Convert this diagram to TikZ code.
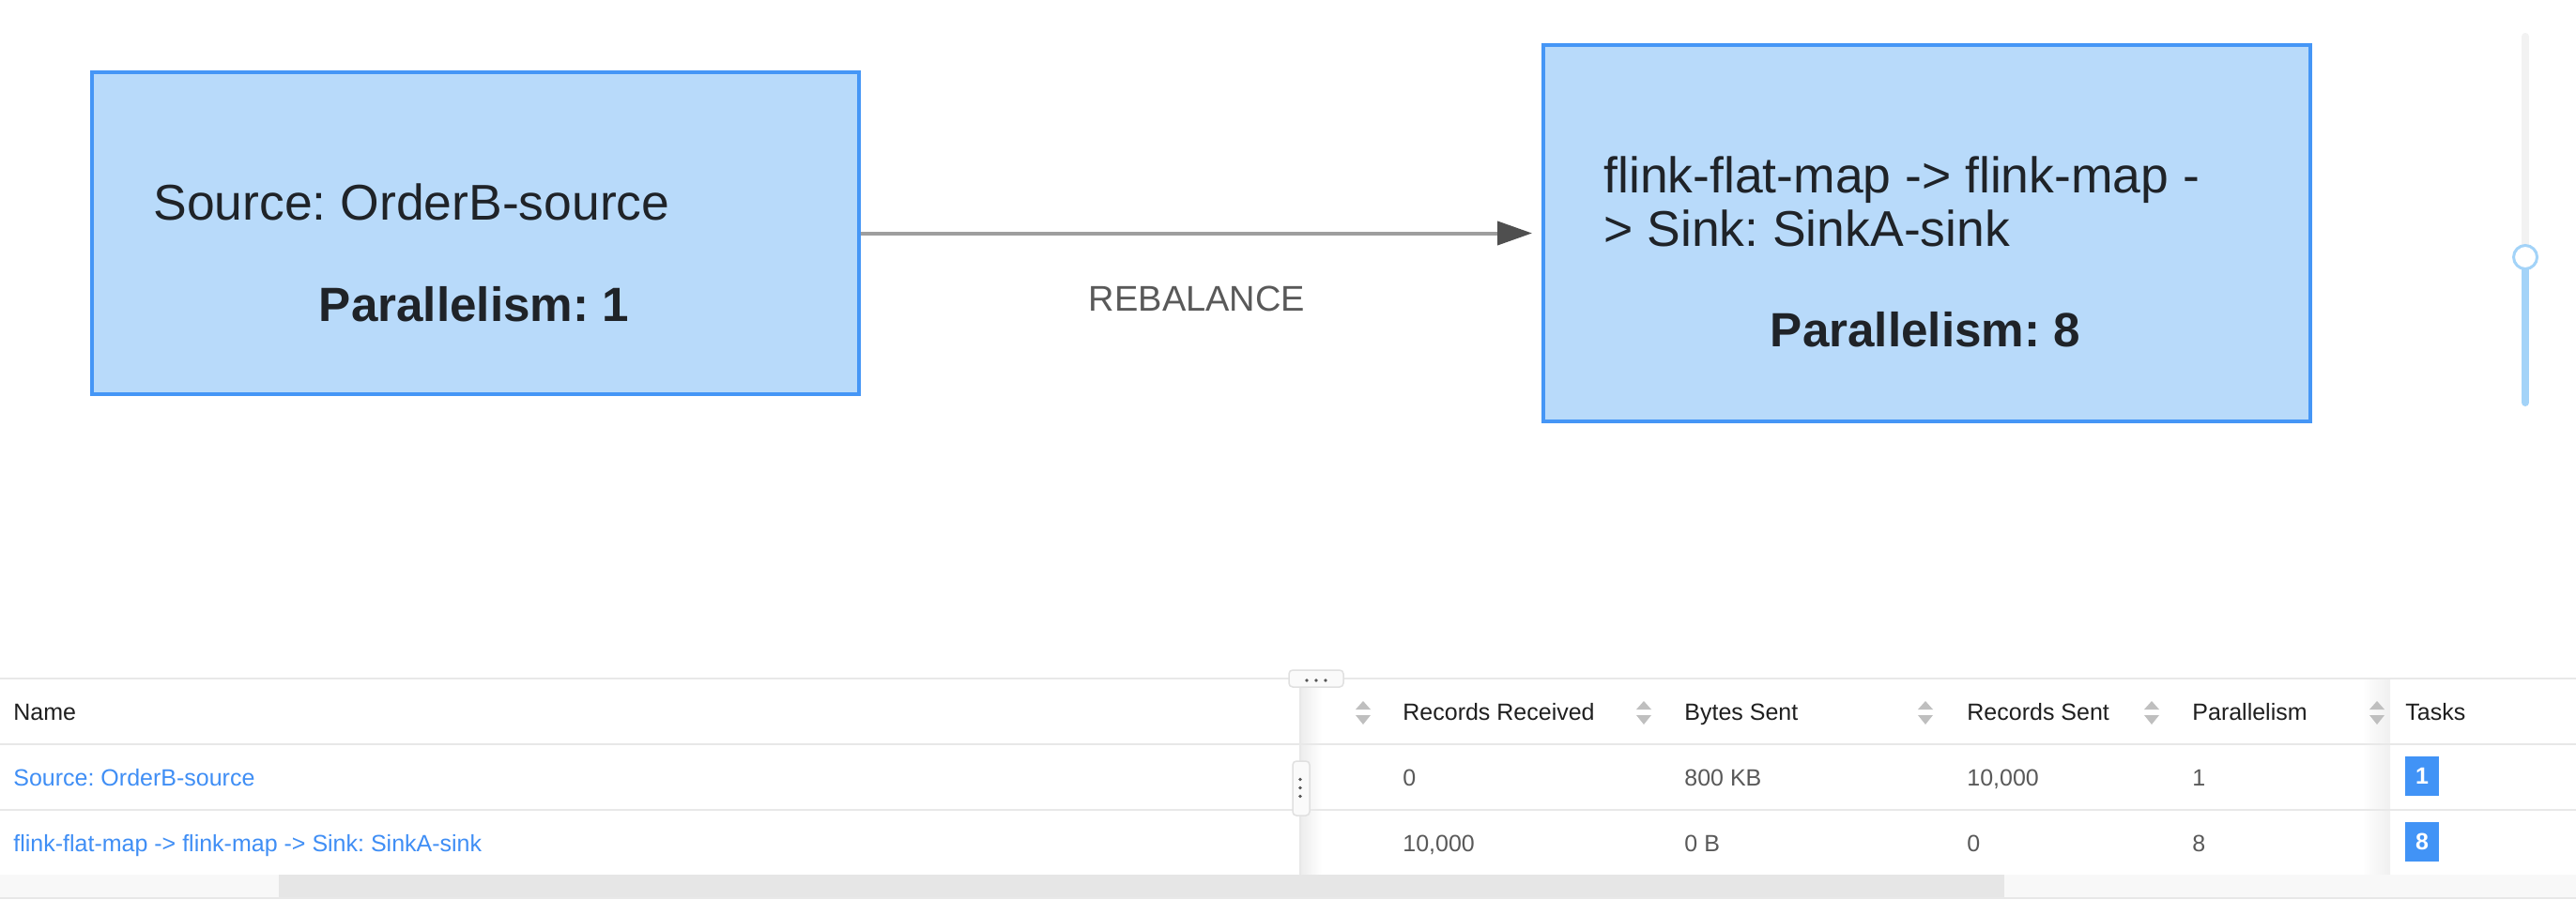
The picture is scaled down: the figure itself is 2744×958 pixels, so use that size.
\documentclass[tikz,border=0pt]{standalone}
\usepackage{fontspec}
\setmainfont{Liberation Sans}
\usetikzlibrary{arrows.meta}
\definecolor{boxfill}{HTML}{B8DAFA}
\definecolor{boxborder}{HTML}{4596F6}
\definecolor{nodetext}{HTML}{1F2328}
\definecolor{flowgray}{HTML}{9E9E9E}
\definecolor{flowhead}{HTML}{4F4F4F}
\definecolor{labelgray}{HTML}{595959}
\definecolor{slidergray}{HTML}{F2F2F2}
\definecolor{sliderblue}{HTML}{A3D3F8}
\definecolor{gridline}{HTML}{E8E8E8}
\definecolor{headtext}{HTML}{1F1F1F}
\definecolor{celltext}{HTML}{595959}
\definecolor{linkblue}{HTML}{3F8EF5}
\definecolor{sortgray}{HTML}{BFBFBF}
\definecolor{badgeblue}{HTML}{4193F6}
\definecolor{trackpale}{HTML}{F8F8F8}
\definecolor{thumbgray}{HTML}{E6E6E6}
\definecolor{handlefill}{HTML}{FAFAFA}
\definecolor{handleedge}{HTML}{E0E0E0}
\definecolor{dotgray}{HTML}{555555}
\begin{document}
\frenchspacing
\begin{tikzpicture}[x=0.5pt,y=-0.5pt,
  opbox/.style={draw=boxborder, fill=boxfill, line width=2pt, inner sep=0pt, minimum width=408.5pt},
  optext/.style={anchor=base west, inner sep=0pt, text=nodetext, font=\fontsize{26.75pt}{32pt}\selectfont},
  opbold/.style={anchor=base, inner sep=0pt, text=nodetext, font=\fontsize{25.6pt}{30pt}\selectfont\bfseries},
  flowline/.style={draw=flowgray, line width=2pt, shorten >=5pt,
     -{Triangle[length=18.5pt,width=12.5pt,color=flowhead]}},
  edgelabel/.style={anchor=base, inner sep=0pt, text=labelgray, font=\fontsize{19pt}{23pt}\selectfont},
  headcell/.style={anchor=base west, inner sep=0pt, text=headtext, font=\fontsize{12.5pt}{15pt}\selectfont},
  bodycell/.style={anchor=base west, inner sep=0pt, text=celltext, font=\fontsize{12.5pt}{15pt}\selectfont},
  linkcell/.style={anchor=base west, inner sep=0pt, text=linkblue, font=\fontsize{12.5pt}{15pt}\selectfont},
  badge/.style={fill=badgeblue, text=white, inner sep=0pt, minimum width=18pt, minimum height=21pt,
     font=\fontsize{12.5pt}{15pt}\selectfont\bfseries},
  grip/.style={draw=handleedge, fill=handlefill, line width=0.75pt, rounded corners=2pt, inner sep=0pt},
  sliderknob/.style={circle, draw=sliderblue, fill=white, line width=1.5pt, inner sep=0pt, minimum size=12.5pt}
]
\useasboundingbox (0,0) rectangle (2744,958);
\fill[white] (0,0) rectangle (2744,958);

% ---------- graph ----------
\node[opbox, minimum height=171.5pt] (src) at (506.5,248.5) {};
\node[opbox, minimum height=200.5pt] (snk) at (2052.5,248.5) {};

\node[optext] (srcname) at (163,234) {Source: OrderB-source};
\node[opbold] (srcpar) at (505,342) {Parallelism: 1};

\node[optext] (snkname1) at (1708,205) {flink-flat-map -> flink-map -};
\node[optext] (snkname2) at (1708,262) {> Sink: SinkA-sink};
\node[opbold] (snkpar) at (2051,369) {Parallelism: 8};

\draw[flowline] (src.east) -- (snk.west);
\node[edgelabel] (rebal) at (1275,331) {REBALANCE};

% ---------- zoom slider ----------
\draw[slidergray, line width=4pt, line cap=round] (2690,39) -- (2690,262);
\draw[sliderblue, line width=4pt, line cap=round] (2690,286) -- (2690,429);
\node[sliderknob] (knob) at (2690,274) {};

% ---------- table ----------
% shadows
\shade[left color=black!7, right color=white] (1386,732) rectangle (1408,932);
\shade[left color=white, right color=black!6] (2516,723) rectangle (2546,932);

% grid lines
\draw[gridline, line width=1pt] (0,723) -- (2744,723);
\draw[gridline, line width=1pt] (0,793) -- (2744,793);
\draw[gridline, line width=1pt] (0,863) -- (2744,863);
\draw[gridline, line width=1pt] (1385,732) -- (1385,932);

% resize grips
\node[grip, minimum width=29pt, minimum height=9pt] (hgrip) at (1402,723) {};
\foreach \dx in {1392,1402,1412} \fill[dotgray] (\dx,725) circle (0.9pt);
\node[grip, minimum width=9pt, minimum height=29pt] (vgrip) at (1386,840) {};
\foreach \dy in {830.5,839.5,848.5} \fill[dotgray] (1385,\dy) circle (0.9pt);

% sort arrows
\foreach \sx in {1452,1751,2051,2292,2532} {
  \fill[sortgray] (\sx-8,756) -- (\sx,747) -- (\sx+8,756) -- cycle;
  \fill[sortgray] (\sx-8,762) -- (\sx,772) -- (\sx+8,762) -- cycle;
}

% header
\node[headcell] (hname) at (14,767) {Name};
\node[headcell] (hrecv) at (1494,767) {Records Received};
\node[headcell] (hbytes) at (1794,767) {Bytes Sent};
\node[headcell] (hsent) at (2095,767) {Records Sent};
\node[headcell] (hpar) at (2335,767) {Parallelism};
\node[headcell] (htasks) at (2562,767) {Tasks};

% row 1
\node[linkcell] (r1name) at (14,837) {Source: OrderB-source};
\node[bodycell] (r1recv) at (1494,837) {0};
\node[bodycell] (r1bytes) at (1794,837) {800 KB};
\node[bodycell] (r1sent) at (2095,837) {10,000};
\node[bodycell] (r1par) at (2335,837) {1};
\node[badge] (r1tasks) at (2580,827) {1};

% row 2
\node[linkcell] (r2name) at (14,907) {flink-flat-map -> flink-map -> Sink: SinkA-sink};
\node[bodycell] (r2recv) at (1494,907) {10,000};
\node[bodycell] (r2bytes) at (1794,907) {0 B};
\node[bodycell] (r2sent) at (2095,907) {0};
\node[bodycell] (r2par) at (2335,907) {8};
\node[badge] (r2tasks) at (2580,897) {8};

% horizontal scrollbar
\fill[trackpale] (0,932) rectangle (2744,956);
\fill[thumbgray] (297,932) rectangle (2135,956);
\draw[gridline, line width=1pt] (0,957) -- (2744,957);
\end{tikzpicture}
\end{document}
